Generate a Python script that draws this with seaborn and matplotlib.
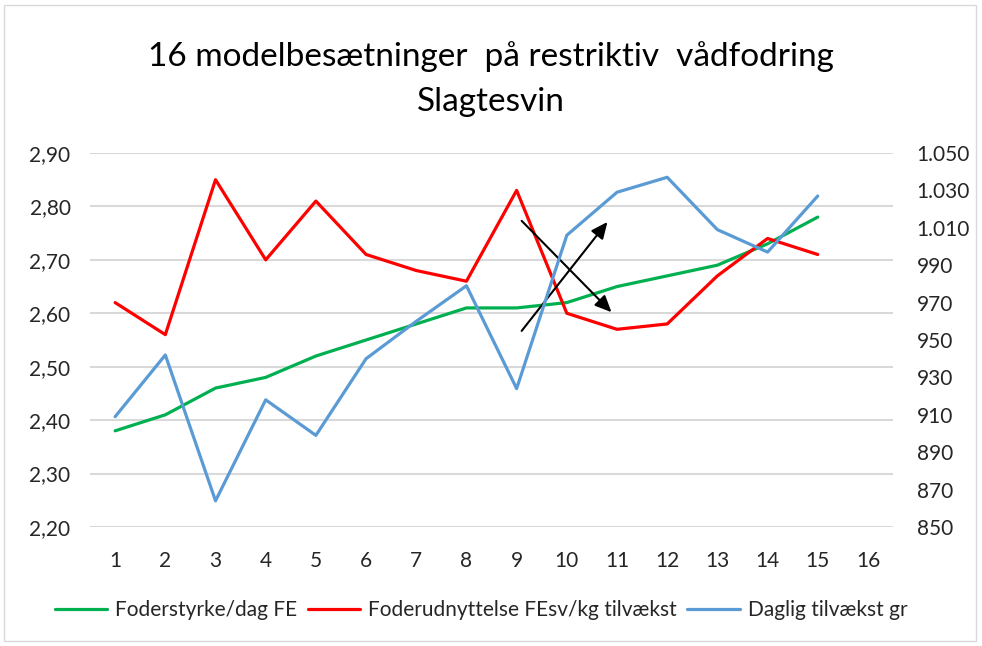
import pandas as pd
import matplotlib
matplotlib.use("Agg")
import matplotlib.pyplot as plt
import seaborn as sns
from matplotlib.ticker import FuncFormatter, FixedLocator
from matplotlib.patches import Rectangle

# =========================
# Data
# =========================
herds = list(range(1, 16))
foderstyrke = [2.38, 2.41, 2.46, 2.48, 2.52, 2.55, 2.58, 2.61, 2.61, 2.62,
               2.65, 2.67, 2.69, 2.73, 2.78]
foderudnyttelse = [2.62, 2.56, 2.85, 2.70, 2.81, 2.71, 2.68, 2.66, 2.83, 2.60,
                   2.57, 2.58, 2.67, 2.74, 2.71]
tilvaekst = [909, 942, 864, 918, 899, 940, 960, 979, 924, 1006,
             1029, 1037, 1009, 997, 1027]

x_ticks = list(range(1, 17))
left_ticks = [2.20, 2.30, 2.40, 2.50, 2.60, 2.70, 2.80, 2.90]
right_ticks = [850, 870, 890, 910, 930, 950, 970, 990, 1010, 1030, 1050]
labels = ["Foderstyrke/dag FE", "Foderudnyttelse FEsv/kg tilvækst", "Daglig tilvækst gr"]
colors = ["#00b050", "#ff0000", "#5b9bd5"]

# arrow annotations (start, end) in data coords of left axis
arrow_up = [(9.10, 2.567), (10.81, 2.771)]
arrow_down = [(9.10, 2.773), (10.89, 2.602)]

df = pd.DataFrame({"nr": herds, "fs": foderstyrke, "fu": foderudnyttelse, "dt": tilvaekst})

# =========================
# Plot
# =========================
sns.set_style("white")
plt.rcParams["font.family"] = ["Lato", "DejaVu Sans"]

fig = plt.figure(figsize=(9.82, 6.46), dpi=100)
ax = fig.add_axes([0.0917, 0.1842, 0.8177, 0.579])
ax2 = ax.twinx()

sns.lineplot(data=df, x="nr", y="fs", ax=ax, color=colors[0], linewidth=2.3, label=labels[0], legend=False)
sns.lineplot(data=df, x="nr", y="fu", ax=ax, color=colors[1], linewidth=2.3, label=labels[1], legend=False)
sns.lineplot(data=df, x="nr", y="dt", ax=ax2, color=colors[2], linewidth=2.3, label=labels[2], legend=False)

ax.set_xlim(0.5, 16.5)
ax.set_ylim(2.20, 2.90)
ax2.set_ylim(850, 1050)
ax.set_xticks(x_ticks)
ax.yaxis.set_major_locator(FixedLocator(left_ticks))
ax2.yaxis.set_major_locator(FixedLocator(right_ticks))
ax.yaxis.set_major_formatter(FuncFormatter(lambda v, p: f"{v:.2f}".replace(".", ",")))
ax2.yaxis.set_major_formatter(FuncFormatter(lambda v, p: f"{v:,.0f}".replace(",", ".")))

ax.grid(axis="y", color="#d9d9d9", linewidth=1.5)
ax.set_axisbelow(True)
for a in (ax, ax2):
    for s in a.spines.values():
        s.set_visible(False)
    a.set_xlabel("")
    a.set_ylabel("")
    a.tick_params(length=0, labelsize=15, colors="#262626")
ax.tick_params(axis="y", pad=14)
ax2.tick_params(axis="y", pad=17)
ax.tick_params(axis="x", pad=17)

for start, end in (arrow_up, arrow_down):
    ax.annotate("", xy=end, xytext=start,
                arrowprops=dict(arrowstyle="-|>,head_length=1.0,head_width=0.45",
                                color="black", lw=1.5, shrinkA=0, shrinkB=0))

fig.text(0.5, 0.912, "16 modelbesætninger  på restriktiv  vådfodring",
         ha="center", va="center", fontsize=24, color="#000000")
fig.text(0.5, 0.842, "Slagtesvin", ha="center", va="center", fontsize=24, color="#000000")

h1, l1 = ax.get_legend_handles_labels()
h2, l2 = ax2.get_legend_handles_labels()
fig.legend(h1 + h2, l1 + l2, loc="center", bbox_to_anchor=(0.49, 0.056), ncol=3,
           frameon=False, fontsize=15, handlelength=2.5, columnspacing=0.5,
           handletextpad=0.4, labelcolor="#262626")

fig.patches.append(Rectangle((0.004, 0.008), 0.99, 0.985, transform=fig.transFigure,
                             fill=False, edgecolor="#d9d9d9", linewidth=1))

fig.savefig("out.png", dpi=100)
